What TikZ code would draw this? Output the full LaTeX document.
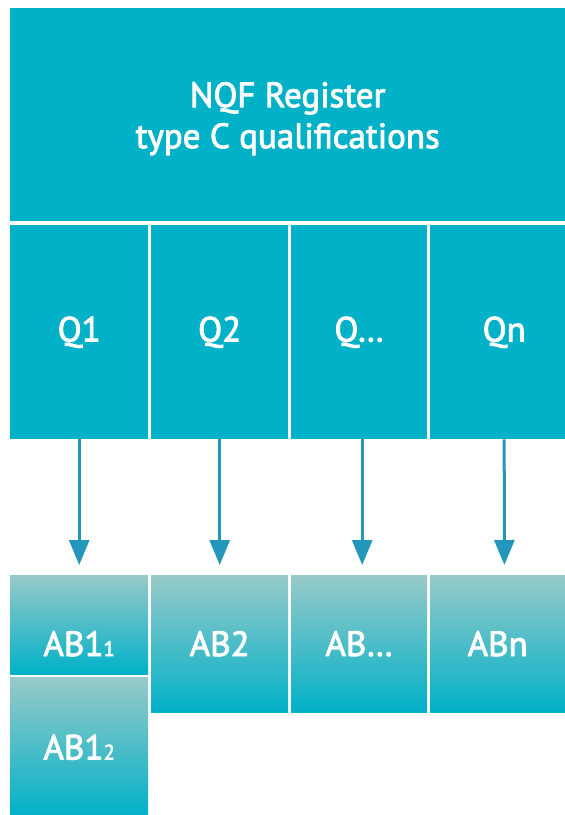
\documentclass[tikz,border=0pt]{standalone}
\usepackage{fontspec}
\setmainfont{PT Sans}
\newfontfamily\labelfont{PT Sans}[FakeBold=2.5]
\usetikzlibrary{arrows.meta}
\definecolor{teal}{HTML}{00B1C8}
\definecolor{mist}{HTML}{98C9C8}
\definecolor{arrowblue}{HTML}{2397BB}
\tikzset{
  block/.style={fill=teal, draw=none, anchor=north west, inner sep=0pt,
    text=white, font=\labelfont\fontsize{35}{41}\selectfont},
  fadebox/.style={draw=none, anchor=north west, inner sep=0pt, top color=mist,
    bottom color=teal, text=white, font=\labelfont\fontsize{35}{40}\selectfont},
  caption/.style={inner sep=0pt, text=white, align=center,
    font=\labelfont\fontsize{35}{41}\selectfont},
  flow/.style={draw=arrowblue, line width=3pt,
    -{Triangle[length=25pt,width=20pt]}, shorten >=10pt}
}
\newcommand{\lowidx}[1]{{\fontsize{21}{21}\selectfont #1}}
\begin{document}
\begin{tikzpicture}[x=1pt,y=-1pt]
\useasboundingbox (0,0) rectangle (565,815);
% register header
\node[block, minimum width=555pt, minimum height=213pt] (reg) at (10,8) {};
\node[caption] (regtitle) at ([yshift=-4pt]reg.center)
  {NQF Register\\type C qualifications};
% qualification columns
\node[block, minimum width=138pt, minimum height=214pt] (q1) at (10,225) {Q1};
\node[block, minimum width=137pt, minimum height=214pt] (q2) at (151,225) {Q2};
\node[block, minimum width=136pt, minimum height=214pt] (q3) at (291,225) {Q…};
\node[block, minimum width=148pt, minimum height=214pt] (q4) at (430,225) {Qn};
% awarding bodies
\node[fadebox, minimum width=138pt, minimum height=99pt] (ab1) at (10,575) {};
\node[fadebox, minimum width=138pt, minimum height=140pt] (ab12) at (10,677) {AB1\lowidx{2}};
\node[fadebox, minimum width=137pt, minimum height=137pt] (ab2) at (151,575) {AB2};
\node[fadebox, minimum width=136pt, minimum height=137pt] (ab3) at (291,575) {AB…};
\node[fadebox, minimum width=135pt, minimum height=137pt] (ab4) at (430,575) {ABn};
\node[caption] (ab1title) at (ab1.center |- ab2.center) {AB1\lowidx{1}};
% links
\draw[flow] (q1.south) -- (ab1.north);
\draw[flow] (q2.south) -- (ab2.north);
\draw[flow] ([xshift=3pt]q3.south) -- ([xshift=3pt]ab3.north);
\draw[flow] (q4.south) -- ([xshift=-61pt]ab4.north east);
\end{tikzpicture}
\end{document}
